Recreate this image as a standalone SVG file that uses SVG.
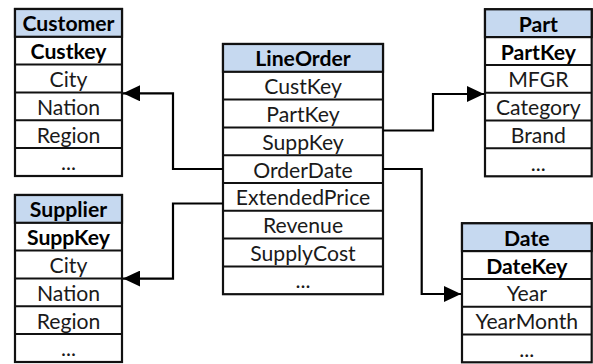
<svg xmlns="http://www.w3.org/2000/svg" width="593" height="364" viewBox="0 0 593 364">
  <style>
    .box { fill: #ffffff; stroke: #111111; stroke-width: 2.2; }
    .hdr { fill: #c6d9f0; stroke: #111111; stroke-width: 2.2; }
    .sep { stroke: #111111; stroke-width: 2; }
    text { font-family: Lato, "Liberation Sans", sans-serif; font-size: 21.2px; fill: #1a1a1a; text-anchor: middle; }
    .b { font-weight: bold; fill: #000000; }
    .wire { fill: none; stroke: #000000; stroke-width: 2.2; }
  </style>
  <defs>
    <marker id="arrow" viewBox="0 0 17 16" refX="17" refY="8" markerWidth="17" markerHeight="16" markerUnits="userSpaceOnUse" orient="auto">
      <path d="M0,0 L17,8 L0,16 Z" fill="#000000"/>
    </marker>
  </defs>

  <!-- Customer dimension -->
  <g id="customer">
    <rect class="box" x="15" y="9" width="107" height="167"/>
    <rect class="hdr" x="15" y="9" width="107" height="27.8"/>
    <line class="sep" x1="15" y1="64.6" x2="122" y2="64.6"/>
    <line class="sep" x1="15" y1="92.4" x2="122" y2="92.4"/>
    <line class="sep" x1="15" y1="120.2" x2="122" y2="120.2"/>
    <line class="sep" x1="15" y1="148" x2="122" y2="148"/>
    <text class="b" x="68.5" y="31">Customer</text>
    <text class="b" x="68.5" y="59">Custkey</text>
    <text x="68.5" y="87">City</text>
    <text x="68.5" y="114.5">Nation</text>
    <text x="68.5" y="142.5">Region</text>
    <text x="68.5" y="170">...</text>
  </g>

  <!-- Supplier dimension -->
  <g id="supplier">
    <rect class="box" x="15" y="195" width="107" height="167"/>
    <rect class="hdr" x="15" y="195" width="107" height="27.8"/>
    <line class="sep" x1="15" y1="250.6" x2="122" y2="250.6"/>
    <line class="sep" x1="15" y1="278.4" x2="122" y2="278.4"/>
    <line class="sep" x1="15" y1="306.2" x2="122" y2="306.2"/>
    <line class="sep" x1="15" y1="334" x2="122" y2="334"/>
    <text class="b" x="68.5" y="217">Supplier</text>
    <text class="b" x="68.5" y="245">SuppKey</text>
    <text x="68.5" y="273">City</text>
    <text x="68.5" y="300.5">Nation</text>
    <text x="68.5" y="328.5">Region</text>
    <text x="68.5" y="356">...</text>
  </g>

  <!-- LineOrder fact table -->
  <g id="lineorder">
    <rect class="box" x="223" y="44" width="160" height="250.2"/>
    <rect class="hdr" x="223" y="44" width="160" height="27.8"/>
    <line class="sep" x1="223" y1="99.6" x2="383" y2="99.6"/>
    <line class="sep" x1="223" y1="127.4" x2="383" y2="127.4"/>
    <line class="sep" x1="223" y1="155.2" x2="383" y2="155.2"/>
    <line class="sep" x1="223" y1="183" x2="383" y2="183"/>
    <line class="sep" x1="223" y1="210.8" x2="383" y2="210.8"/>
    <line class="sep" x1="223" y1="238.6" x2="383" y2="238.6"/>
    <line class="sep" x1="223" y1="266.4" x2="383" y2="266.4"/>
    <text class="b" x="303" y="66">LineOrder</text>
    <text x="303" y="94">CustKey</text>
    <text x="303" y="122">PartKey</text>
    <text x="303" y="149.5">SuppKey</text>
    <text x="303" y="177.5">OrderDate</text>
    <text x="303" y="205">ExtendedPrice</text>
    <text x="303" y="233">Revenue</text>
    <text x="303" y="261">SupplyCost</text>
    <text x="303" y="288">...</text>
  </g>

  <!-- Part dimension -->
  <g id="part">
    <rect class="box" x="485" y="9.3" width="106.7" height="167"/>
    <rect class="hdr" x="485" y="9.3" width="106.7" height="27.8"/>
    <line class="sep" x1="485" y1="64.9" x2="591.7" y2="64.9"/>
    <line class="sep" x1="485" y1="92.7" x2="591.7" y2="92.7"/>
    <line class="sep" x1="485" y1="120.5" x2="591.7" y2="120.5"/>
    <line class="sep" x1="485" y1="148.3" x2="591.7" y2="148.3"/>
    <text class="b" x="538.3" y="31.5">Part</text>
    <text class="b" x="538.3" y="59.5">PartKey</text>
    <text x="538.3" y="87">MFGR</text>
    <text x="538.3" y="115">Category</text>
    <text x="538.3" y="143">Brand</text>
    <text x="538.3" y="170.5">...</text>
  </g>

  <!-- Date dimension -->
  <g id="date">
    <rect class="box" x="462" y="223.3" width="129.7" height="139"/>
    <rect class="hdr" x="462" y="223.3" width="129.7" height="27.8"/>
    <line class="sep" x1="462" y1="278.9" x2="591.7" y2="278.9"/>
    <line class="sep" x1="462" y1="306.7" x2="591.7" y2="306.7"/>
    <line class="sep" x1="462" y1="334.5" x2="591.7" y2="334.5"/>
    <text class="b" x="526.8" y="245.5">Date</text>
    <text class="b" x="526.8" y="273.5">DateKey</text>
    <text x="526.8" y="301">Year</text>
    <text x="526.8" y="329">YearMonth</text>
    <text x="526.8" y="356.5">...</text>
  </g>

  <!-- Foreign-key references -->
  <g id="connectors">
    <polyline class="wire" points="223,169 173,169 173,93.3 123,93.3" marker-end="url(#arrow)"/>
    <polyline class="wire" points="223,203.5 173,203.5 173,278.6 123,278.6" marker-end="url(#arrow)"/>
    <polyline class="wire" points="383,130.5 433,130.5 433,94 484,94" marker-end="url(#arrow)"/>
    <polyline class="wire" points="383,169 421.7,169 421.7,294 461,294" marker-end="url(#arrow)"/>
  </g>
</svg>
